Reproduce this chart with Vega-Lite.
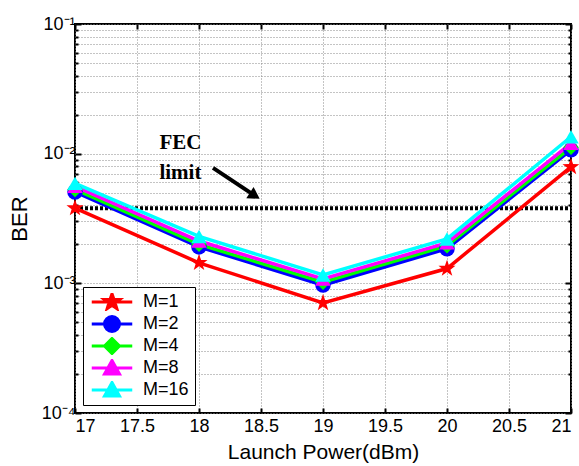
{
  "$schema": "https://vega.github.io/schema/vega-lite/v6.json",
  "width": 496,
  "height": 389,
  "autosize": "none",
  "padding": {"left": 75, "top": 24, "right": 8, "bottom": 53},
  "config": {
    "view": {"stroke": "black", "strokeWidth": 2},
    "font": "Liberation Sans",
    "axis": {"labelFont": "Liberation Sans", "titleFont": "Liberation Sans", "labelColor": "black", "titleColor": "black", "titleFontWeight": "normal", "domain": false}
  },
  "resolve": {"scale": {"shape": "independent", "color": "independent", "stroke": "independent"}},
  "datasets": {
    "ber": [
      {"P": 17, "M": "M=1", "ber": 0.0038},
      {"P": 18, "M": "M=1", "ber": 0.00144},
      {"P": 19, "M": "M=1", "ber": 0.000706},
      {"P": 20, "M": "M=1", "ber": 0.0013},
      {"P": 21, "M": "M=1", "ber": 0.0079},
      {"P": 17, "M": "M=2", "ber": 0.00507},
      {"P": 18, "M": "M=2", "ber": 0.00191},
      {"P": 19, "M": "M=2", "ber": 0.00097},
      {"P": 20, "M": "M=2", "ber": 0.00185},
      {"P": 21, "M": "M=2", "ber": 0.0107},
      {"P": 17, "M": "M=4", "ber": 0.0053},
      {"P": 18, "M": "M=4", "ber": 0.002},
      {"P": 19, "M": "M=4", "ber": 0.00102},
      {"P": 20, "M": "M=4", "ber": 0.00195},
      {"P": 21, "M": "M=4", "ber": 0.0112},
      {"P": 17, "M": "M=8", "ber": 0.0056},
      {"P": 18, "M": "M=8", "ber": 0.00212},
      {"P": 19, "M": "M=8", "ber": 0.00108},
      {"P": 20, "M": "M=8", "ber": 0.00205},
      {"P": 21, "M": "M=8", "ber": 0.012},
      {"P": 17, "M": "M=16", "ber": 0.0059},
      {"P": 18, "M": "M=16", "ber": 0.0023},
      {"P": 19, "M": "M=16", "ber": 0.00116},
      {"P": 20, "M": "M=16", "ber": 0.0022},
      {"P": 21, "M": "M=16", "ber": 0.0135}
    ],
    "fec": [{"x1": 17, "x2": 21, "ber": 0.0038}],
    "labels": [
      {"P": 17.85, "ber": 0.0121, "text": "FEC"},
      {"P": 17.85, "ber": 0.0071, "text": "limit"}
    ],
    "arrow": [{"P": 18.113, "ber": 0.00776, "P2": 18.45, "ber2": 0.00474}]
  },
  "layer": [
    {
      "data": {"name": "ber"},
      "mark": {"type": "point", "opacity": 0},
      "encoding": {
        "x": {"field": "P", "type": "quantitative", "scale": {"domain": [17, 21]},
          "axis": {"orient": "top", "values": [17, 17.5, 18, 18.5, 19, 19.5, 20, 20.5, 21], "labels": false, "grid": false, "title": null, "tickSize": -5, "tickColor": "black", "tickWidth": 2}},
        "y": {"field": "ber", "type": "quantitative", "scale": {"type": "log", "domain": [0.0001, 0.1]},
          "axis": {"orient": "right", "values": [0.0001,0.0002,0.0003,0.0004,0.0005,0.0006,0.0007,0.0008,0.0009,0.001,0.002,0.003,0.004,0.005,0.006,0.007,0.008,0.009,0.01,0.02,0.03,0.04,0.05,0.06,0.07,0.08,0.09,0.1],
            "labels": false, "grid": false, "title": null, "tickColor": "black", "tickWidth": 2,
            "tickSize": {"condition": {"test": "abs(log(datum.value)/LN10 - round(log(datum.value)/LN10)) < 0.001", "value": -6}, "value": -3}}}
      }
    },
    {
      "data": {"name": "ber"},
      "mark": {"type": "point", "opacity": 0},
      "encoding": {
        "x": {"field": "P", "type": "quantitative",
          "axis": {"orient": "bottom", "values": [17, 17.5, 18, 18.5, 19, 19.5, 20, 20.5, 21], "labelExpr": "datum.value + ''", "labelFontSize": 18, "labelPadding": 9,
            "grid": true, "gridDash": [1, 2], "gridColor": "#888", "gridWidth": 1,
            "tickSize": -5, "tickColor": "black", "tickWidth": 2,
            "title": "Launch Power(dBm)", "titleFontSize": 21, "titlePadding": 6}},
        "y": {"field": "ber", "type": "quantitative",
          "axis": {"orient": "left", "values": [0.0001,0.0002,0.0003,0.0004,0.0005,0.0006,0.0007,0.0008,0.0009,0.001,0.002,0.003,0.004,0.005,0.006,0.007,0.008,0.009,0.01,0.02,0.03,0.04,0.05,0.06,0.07,0.08,0.09,0.1],
            "labelExpr": "abs(datum.value-0.1)<1e-9 ? '10⁻¹' : abs(datum.value-0.01)<1e-9 ? '10⁻²' : abs(datum.value-0.001)<1e-9 ? '10⁻³' : abs(datum.value-0.0001)<1e-10 ? '10⁻⁴' : ''",
            "labelFontSize": 18, "labelPadding": 6,
            "grid": true, "gridDash": [1, 2], "gridColor": "#888", "gridWidth": 1,
            "tickColor": "black", "tickWidth": 2,
            "tickSize": {"condition": {"test": "abs(log(datum.value)/LN10 - round(log(datum.value)/LN10)) < 0.001", "value": -6}, "value": -3},
            "title": "BER", "titleFontSize": 22, "titlePadding": 10}}
      }
    },
    {
      "data": {"name": "fec"},
      "mark": {"type": "rule", "color": "black", "strokeWidth": 4, "strokeDash": [3, 2]},
      "encoding": {
        "x": {"field": "x1", "type": "quantitative", "axis": null},
        "x2": {"field": "x2"},
        "y": {"field": "ber", "type": "quantitative", "axis": null}
      }
    },
    {
      "data": {"name": "ber"},
      "mark": {"type": "line", "strokeWidth": 3.5},
      "encoding": {
        "x": {"field": "P", "type": "quantitative", "axis": null},
        "y": {"field": "ber", "type": "quantitative", "axis": null},
        "stroke": {"field": "M", "type": "nominal", "scale": {"domain": ["M=1", "M=2", "M=4", "M=8", "M=16"], "range": ["#ff0000", "#0000ff", "#00ff00", "#ff00ff", "#00ffff"]}, "legend": null}
      }
    },
    {
      "data": {"name": "ber"},
      "mark": {"type": "point", "filled": true, "opacity": 1, "size": 240},
      "encoding": {
        "x": {"field": "P", "type": "quantitative", "axis": null},
        "y": {"field": "ber", "type": "quantitative", "axis": null},
        "color": {"field": "M", "type": "nominal",
          "scale": {"domain": ["M=1", "M=2", "M=4", "M=8", "M=16"], "range": ["#ff0000", "#0000ff", "#00ff00", "#ff00ff", "#00ffff"]},
          "legend": null},
        "shape": {"field": "M", "type": "nominal",
          "scale": {"domain": ["M=1", "M=2", "M=4", "M=8", "M=16"], "range": ["M0,-1.15L0.27,-0.37L1.1,-0.36L0.44,0.14L0.68,0.93L0,0.46L-0.68,0.93L-0.44,0.14L-1.1,-0.36L-0.27,-0.37Z", "circle", "diamond", "triangle-up", "triangle-up"]},
          "legend": null}
      }
    },
    {
      "data": {"name": "ber"},
      "transform": [{"filter": "false"}],
      "mark": {"type": "point", "filled": true, "opacity": 1, "strokeWidth": 3},
      "encoding": {
        "x": {"field": "P", "type": "quantitative", "axis": null},
        "y": {"field": "ber", "type": "quantitative", "axis": null},
        "color": {"field": "M", "type": "nominal",
          "scale": {"domain": ["M=1", "M=2", "M=4", "M=8", "M=16"], "range": ["#ff0000", "#0000ff", "#00ff00", "#ff00ff", "#00ffff"]},
          "legend": {"title": null, "orient": "bottom-left", "offset": 8, "fillColor": "white", "strokeColor": "black", "padding": 6, "labelFontSize": 18, "labelFont": "Liberation Sans", "labelColor": "black", "symbolSize": 225, "symbolOffset": 14, "labelOffset": 22, "rowPadding": 4, "clipHeight": 18, "symbolStrokeWidth": 3}},
        "stroke": {"field": "M", "type": "nominal",
          "scale": {"domain": ["M=1", "M=2", "M=4", "M=8", "M=16"], "range": ["#ff0000", "#0000ff", "#00ff00", "#ff00ff", "#00ffff"]},
          "legend": {"title": null, "orient": "bottom-left", "offset": 8, "fillColor": "white", "strokeColor": "black", "padding": 6, "labelFontSize": 18, "labelFont": "Liberation Sans", "labelColor": "black", "symbolSize": 225, "symbolOffset": 14, "labelOffset": 22, "rowPadding": 4, "clipHeight": 18, "symbolStrokeWidth": 3}},
        "shape": {"field": "M", "type": "nominal",
          "scale": {"domain": ["M=1", "M=2", "M=4", "M=8", "M=16"], "range": [
            "M-2.7,0H2.7M0,-1.1L0.26,-0.36L1.05,-0.34L0.42,0.14L0.65,0.89L0,0.44L-0.65,0.89L-0.42,0.14L-1.05,-0.34L-0.26,-0.36Z",
            "M-2.7,0H2.7M1,0A1,1,0,1,1,-1,0A1,1,0,1,1,1,0Z",
            "M-2.7,0H2.7M0,-1L1,0L0,1L-1,0Z",
            "M-2.7,0H2.7M0,-1L1,0.8L-1,0.8Z",
            "M-2.7,0H2.7M0,-1L1,0.8L-1,0.8Z"]},
          "legend": {"title": null, "orient": "bottom-left", "offset": 8, "fillColor": "white", "strokeColor": "black", "padding": 6, "labelFontSize": 18, "labelFont": "Liberation Sans", "labelColor": "black", "symbolSize": 225, "symbolOffset": 14, "labelOffset": 22, "rowPadding": 4, "clipHeight": 18, "symbolStrokeWidth": 3}}
      }
    },
    {
      "data": {"name": "labels"},
      "mark": {"type": "text", "font": "Liberation Serif", "fontWeight": "bold", "fontSize": 21, "align": "center", "baseline": "middle", "color": "black"},
      "encoding": {
        "x": {"field": "P", "type": "quantitative", "axis": null},
        "y": {"field": "ber", "type": "quantitative", "axis": null},
        "text": {"field": "text"}
      }
    },
    {
      "data": {"name": "arrow"},
      "mark": {"type": "rule", "color": "black", "strokeWidth": 4},
      "encoding": {
        "x": {"field": "P", "type": "quantitative", "axis": null},
        "y": {"field": "ber", "type": "quantitative", "axis": null},
        "x2": {"field": "P2"},
        "y2": {"field": "ber2"}
      }
    },
    {
      "data": {"name": "arrow"},
      "mark": {"type": "point", "shape": "triangle-right", "filled": true, "color": "black", "opacity": 1, "size": 180, "angle": 33},
      "encoding": {
        "x": {"field": "P2", "type": "quantitative", "axis": null},
        "y": {"field": "ber2", "type": "quantitative", "axis": null}
      }
    }
  ]
}
